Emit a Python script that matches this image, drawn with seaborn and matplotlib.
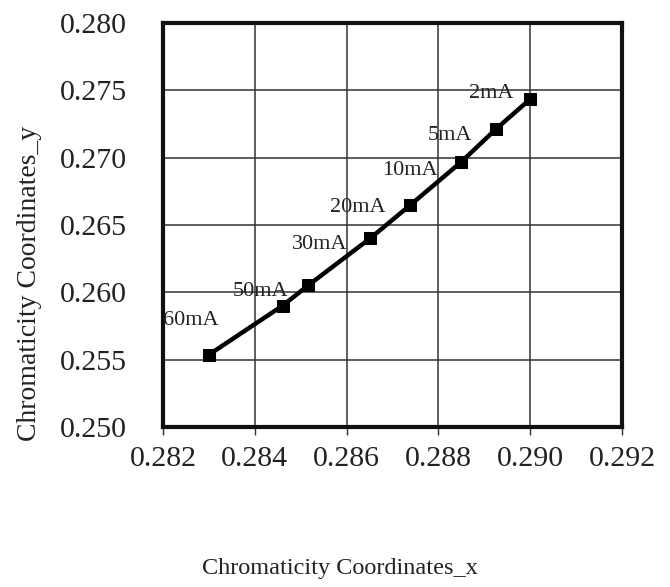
import pandas as pd
import matplotlib
matplotlib.use('Agg')
import matplotlib.pyplot as plt
import seaborn as sns

# Toa do mau theo dong dien
cie_x = [0.28300, 0.28461, 0.28516, 0.28651, 0.28738, 0.28849, 0.28925, 0.29000]
cie_y = [0.25537, 0.25902, 0.26051, 0.26400, 0.26646, 0.26966, 0.27211, 0.27435]
current_labels = ['60mA', '', '50mA', '30mA', '20mA', '10mA', '5mA', '2mA']
x_ticks = [0.282, 0.284, 0.286, 0.288, 0.290, 0.292]
y_ticks = [0.250, 0.255, 0.260, 0.265, 0.270, 0.275, 0.280]

# vi tri nhan (pixel, so voi diem)
label_offsets = [(-18, 34), (0, 0), (-48, -6), (-50, -6), (-52, -2), (-51, -8), (-46, -6), (-39, 6)]

df = pd.DataFrame({'x': cie_x, 'y': cie_y})

sns.set_style('white')
plt.rcParams['font.family'] = ['Liberation Serif', 'DejaVu Serif']

fig = plt.figure(figsize=(6.7, 5.87), dpi=100)
ax = fig.add_axes([163 / 670, 1 - 427 / 587, 459 / 670, 404 / 587])

sns.lineplot(data=df, x='x', y='y', ax=ax, color='black', linewidth=3.2,
             marker='s', markersize=9, markeredgecolor='black', sort=False)

for xv, yv, lab, off in zip(cie_x, cie_y, current_labels, label_offsets):
    if lab:
        ax.annotate(lab, (xv, yv), xytext=off, textcoords='offset pixels',
                    ha='center', va='center', fontsize=16, color='#222222')

ax.set_xlim(0.282, 0.292)
ax.set_ylim(0.250, 0.280)
ax.set_xticks(x_ticks)
ax.set_yticks(y_ticks)
ax.set_xticklabels([f'{v:.3f}' for v in x_ticks])
ax.set_yticklabels([f'{v:.3f}' for v in y_ticks])
ax.grid(True, color='#333333', linewidth=1.1)
ax.set_axisbelow(True)

for s in ax.spines.values():
    s.set_linewidth(3)
    s.set_color('#111111')

ax.tick_params(axis='x', length=6, width=1, color='#333333', direction='out',
               bottom=True, labelsize=21.5, pad=8, labelcolor='#222222')
ax.tick_params(axis='y', length=0, labelsize=21.5, pad=26, labelcolor='#222222')

ax.set_xlabel('Chromaticity Coordinates_x', fontsize=17.5, color='#222222')
ax.set_ylabel('Chromaticity Coordinates_y', fontsize=20, color='#222222')
ax.xaxis.set_label_coords((340 - 163) / 459, (427 - 558) / 404)
ax.yaxis.set_label_coords((42 - 163) / 459, (427 - 283) / 404)

fig.savefig('out.png', dpi=100)
